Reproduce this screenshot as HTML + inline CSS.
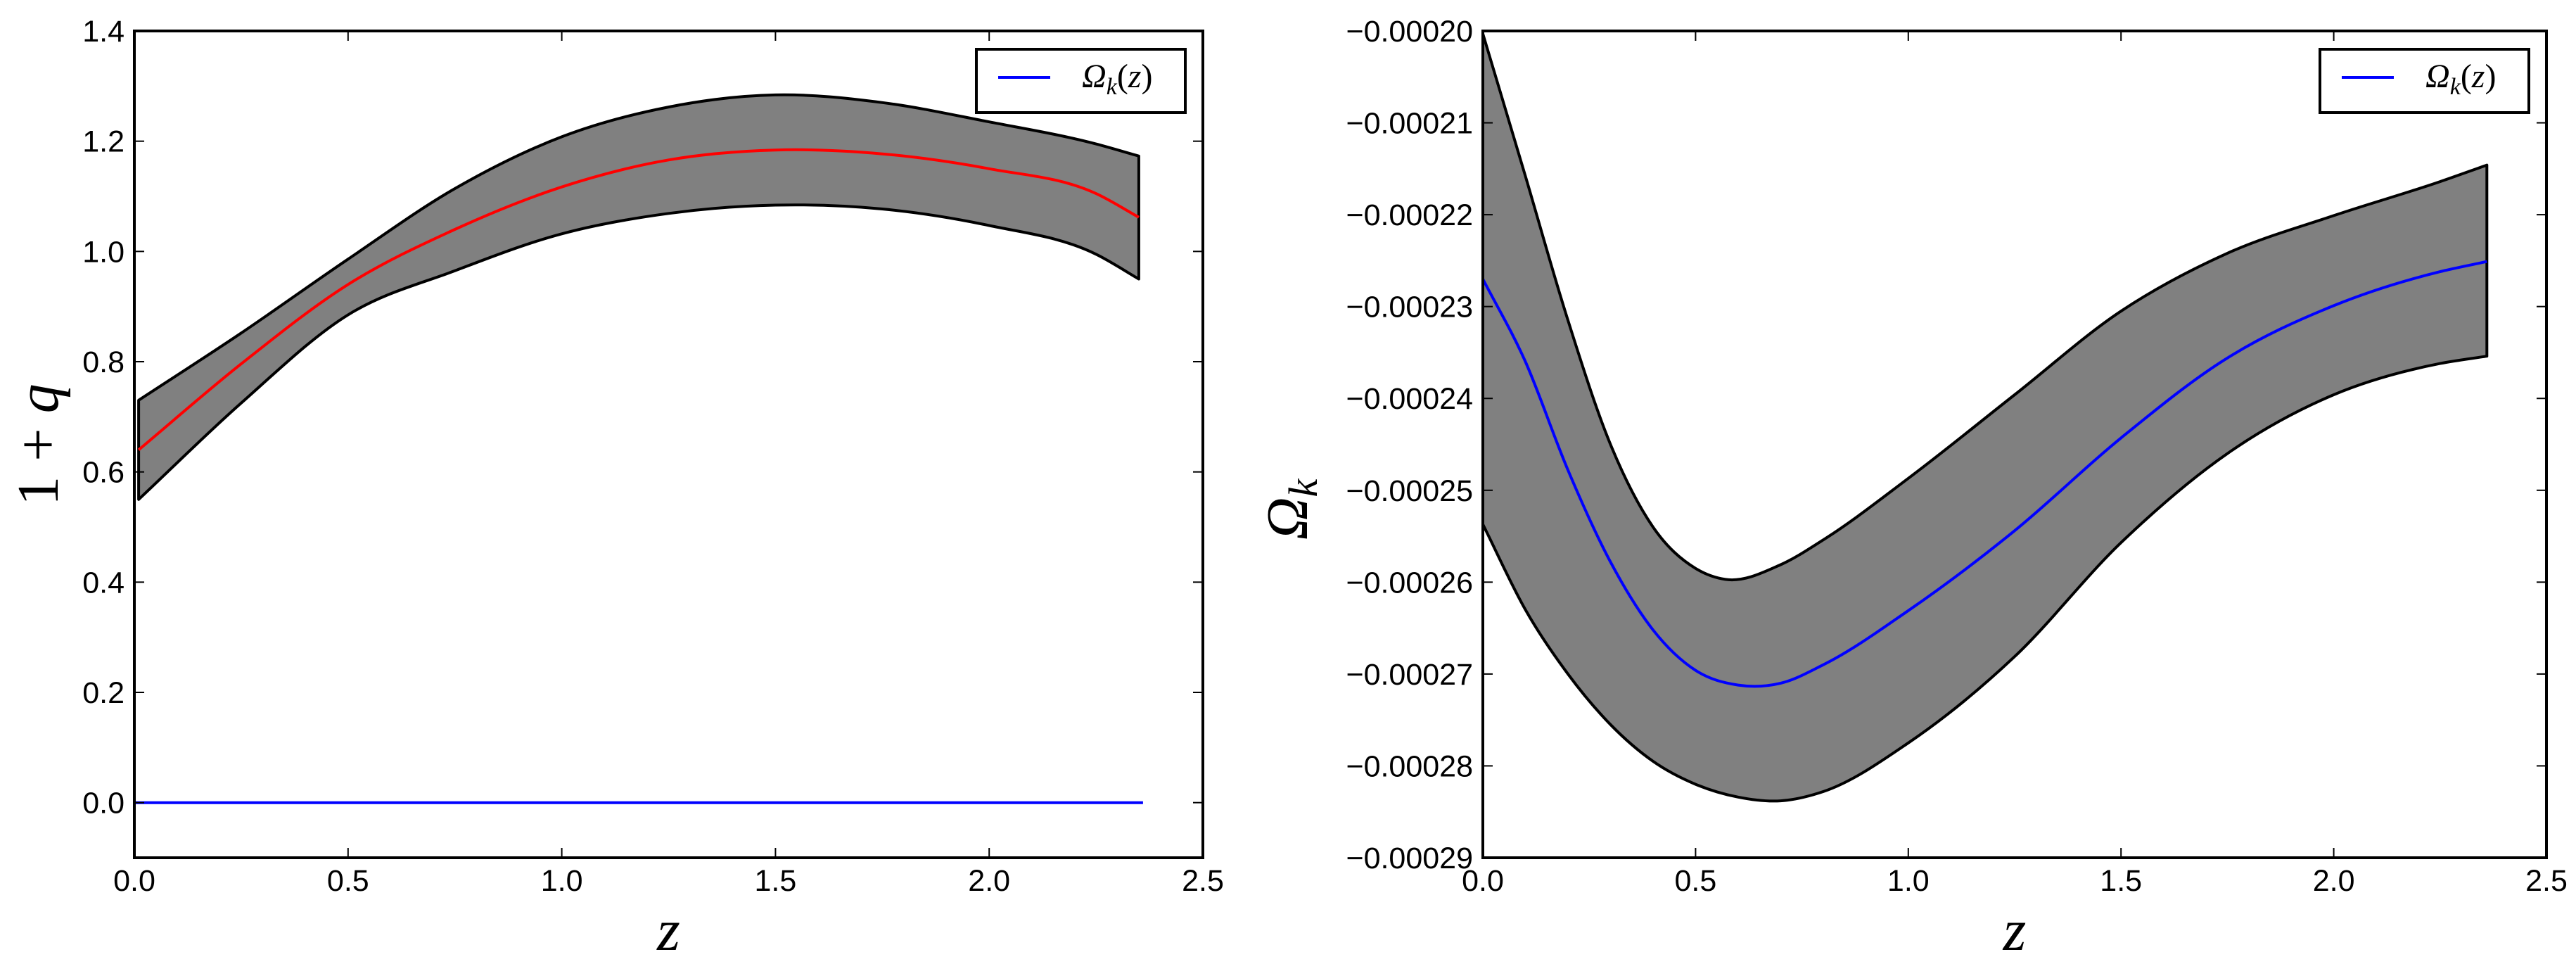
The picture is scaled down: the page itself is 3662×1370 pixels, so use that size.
<!DOCTYPE html>
<html><head><meta charset="utf-8">
<style>
html,body{margin:0;padding:0;background:#fff;}
svg{display:block;}
text{font-family:"Liberation Sans",sans-serif;}
.tick{font-size:43px;fill:#000;}
.math{font-family:"Liberation Serif","DejaVu Serif",serif;font-style:italic;}
</style></head>
<body>
<svg id="chart" width="3662" height="1370" viewBox="0 0 3662 1370" xmlns="http://www.w3.org/2000/svg"></svg>
<script>
// ---- Left panel data (1+q) ----
const qZ = [0.01,0.25,0.5,0.75,1.0,1.25,1.5,1.75,2.0,2.25,2.35];
const qMean = [0.64,0.796,0.94,1.04,1.117,1.166,1.184,1.177,1.15,1.105,1.062];
const qUpper = [0.73,0.852,0.986,1.114,1.208,1.262,1.284,1.270,1.235,1.195,1.173];
const qLower = [0.55,0.725,0.885,0.965,1.032,1.069,1.084,1.077,1.047,0.995,0.95];
const zeroZ = [0.0,2.36];
const zeroVal = [0,0];
const leftXTicks = [0,0.5,1.0,1.5,2.0,2.5];
const leftXTickLabels = ["0.0","0.5","1.0","1.5","2.0","2.5"];
const leftYTicks = [0,0.2,0.4,0.6,0.8,1.0,1.2,1.4];
const leftYTickLabels = ["0.0","0.2","0.4","0.6","0.8","1.0","1.2","1.4"];
// ---- Right panel data (Omega_k), units of 1e-5 ----
const okMeanZ = [0,0.1,0.2,0.3,0.4,0.5,0.6,0.7,0.8,1.0,1.25,1.5,1.75,2.0,2.25,2.36];
const okMean = [-22.70,-23.6,-24.78,-25.78,-26.52,-26.96,-27.12,-27.10,-26.9,-26.31,-25.44,-24.43,-23.56,-22.99,-22.62,-22.51];
const okUpperZ = [0,0.1,0.2,0.3,0.4,0.5,0.57,0.7,0.8,1.0,1.25,1.5,1.75,2.0,2.25,2.36];
const okUpper = [-20.03,-21.58,-23.15,-24.5,-25.4,-25.85,-25.97,-25.81,-25.54,-24.87,-23.96,-23.05,-22.42,-22.01,-21.64,-21.46];
const okLowerZ = [0,0.1,0.2,0.3,0.4,0.5,0.6,0.7,0.8,1.0,1.25,1.5,1.75,2.0,2.25,2.36];
const okLower = [-25.37,-26.3,-27.0,-27.55,-27.95,-28.2,-28.34,-28.38,-28.28,-27.75,-26.81,-25.57,-24.6,-23.96,-23.62,-23.54];
const rightXTicks = [0,0.5,1.0,1.5,2.0,2.5];
const rightXTickLabels = ["0.0","0.5","1.0","1.5","2.0","2.5"];
const rightYTicks = [-20,-21,-22,-23,-24,-25,-26,-27,-28,-29];
const rightYTickLabels = ["\u22120.00020","\u22120.00021","\u22120.00022","\u22120.00023","\u22120.00024","\u22120.00025","\u22120.00026","\u22120.00027","\u22120.00028","\u22120.00029"];

const NS = "http://www.w3.org/2000/svg";
const svg = document.getElementById('chart');
function mk(tag, attrs, parent){
  const e = document.createElementNS(NS, tag);
  for (const k in attrs) e.setAttribute(k, attrs[k]);
  (parent||svg).appendChild(e);
  return e;
}
function scale(d0,d1,r0,r1){ return v => r0 + (v-d0)/(d1-d0)*(r1-r0); }
function pts(xs, ys, sx, sy){ return xs.map((x,i)=>[sx(x), sy(ys[i])]); }
function tangents(p){
  const n=p.length, m=[];
  for(let i=0;i<n;i++){
    if(i===0) m.push((p[1][1]-p[0][1])/(p[1][0]-p[0][0]));
    else if(i===n-1) m.push((p[n-1][1]-p[n-2][1])/(p[n-1][0]-p[n-2][0]));
    else {
      const d0=(p[i][1]-p[i-1][1])/(p[i][0]-p[i-1][0]);
      const d1=(p[i+1][1]-p[i][1])/(p[i+1][0]-p[i][0]);
      const h0=p[i][0]-p[i-1][0], h1=p[i+1][0]-p[i][0];
      m.push((d0*h1+d1*h0)/(h0+h1));
    }
  }
  return m;
}
function curve(p, moveFirst){
  const n=p.length, m=tangents(p);
  let d = (moveFirst ? "M" : "L") + p[0][0].toFixed(1) + "," + p[0][1].toFixed(1);
  for(let i=0;i<n-1;i++){
    const h=(p[i+1][0]-p[i][0])/3;
    d += "C"+(p[i][0]+h).toFixed(1)+","+(p[i][1]+m[i]*h).toFixed(1)+" "+(p[i+1][0]-h).toFixed(1)+","+(p[i+1][1]-m[i+1]*h).toFixed(1)+" "+p[i+1][0].toFixed(1)+","+p[i+1][1].toFixed(1);
  }
  return d;
}
function curveRev(p){
  const n=p.length, m=tangents(p);
  let d = "L"+p[n-1][0].toFixed(1)+","+p[n-1][1].toFixed(1);
  for(let i=n-1;i>0;i--){
    const h=(p[i][0]-p[i-1][0])/3;
    d += "C"+(p[i][0]-h).toFixed(1)+","+(p[i][1]-m[i]*h).toFixed(1)+" "+(p[i-1][0]+h).toFixed(1)+","+(p[i-1][1]+m[i-1]*h).toFixed(1)+" "+p[i-1][0].toFixed(1)+","+p[i-1][1].toFixed(1);
  }
  return d;
}

function panel(o){
  const g = mk('g', {});
  
  
  const sx = scale(o.xd[0], o.xd[1], o.L, o.R);
  const sy = scale(o.yd[0], o.yd[1], o.B, o.T);
  const up = pts(o.upZ, o.up, sx, sy);
  const lo = pts(o.loZ, o.lo, sx, sy);
  const band = mk('path', {d: curve(up,true) + curveRev(lo) + "Z", fill:"#808080", stroke:"#000", "stroke-width":4, "stroke-linejoin":"round"}, g);
  
  
  o.lines.forEach(l=>{
    const pe = mk('path', {d: curve(pts(l.z, l.v, sx, sy),true), fill:"none", stroke:l.color, "stroke-width":4}, g);
    
    
  });
  const fr = mk('rect', {x:o.L, y:o.T, width:o.R-o.L, height:o.B-o.T, fill:"none", stroke:"#000", "stroke-width":4}, g);
  
  
  o.xt.forEach((t,i)=>{
    const x = sx(t);
    mk('line',{x1:x,y1:o.B,x2:x,y2:o.B-14,stroke:"#000","stroke-width":2},g);
    mk('line',{x1:x,y1:o.T,x2:x,y2:o.T+14,stroke:"#000","stroke-width":2},g);
    const tx = mk('text',{x:x,y:o.B+47,"text-anchor":"middle",class:"tick"},g);
    tx.textContent = o.xtl[i];
    
    
  });
  o.yt.forEach((t,i)=>{
    const y = sy(t);
    mk('line',{x1:o.L,y1:y,x2:o.L+14,y2:y,stroke:"#000","stroke-width":2},g);
    mk('line',{x1:o.R,y1:y,x2:o.R-14,y2:y,stroke:"#000","stroke-width":2},g);
    const tx = mk('text',{x:o.L-14,y:y+15,"text-anchor":"end",class:"tick"},g);
    tx.textContent = o.ytl[i];
    
    
  });
  const lg = mk('g',{},g);
  
  
  mk('rect',{x:o.lgX,y:70,width:297,height:90,fill:"#fff",stroke:"#000","stroke-width":4},lg);
  mk('line',{x1:o.lgX+31,y1:110,x2:o.lgX+105,y2:110,stroke:"#0000ff","stroke-width":4},lg);
  const lt = mk('text',{x:o.lgX+150,y:124,class:"math","font-size":"48"},lg);
  lt.innerHTML = 'Ω<tspan font-size="34" dy="10">k</tspan><tspan dy="-10" font-style="normal">(</tspan>z<tspan font-style="normal">)</tspan>';
  
  
  const xl = mk('text',{x:(o.L+o.R)/2,y:1350,"text-anchor":"middle",class:"math","font-size":"84"},g);
  xl.textContent = 'z';
  
  
  return g;
}

panel({name:'left-panel', L:191, R:1710, T:44, B:1219, xd:[0,2.5], yd:[-0.1,1.4],
  upZ:qZ, up:qUpper, loZ:qZ, lo:qLower,
  lines:[{z:qZ,v:qMean,color:"#ff0000",name:'mean-1-plus-q'},{z:zeroZ,v:zeroVal,color:"#0000ff",name:'omega-k-line'}],
  xt:leftXTicks, xtl:leftXTickLabels, yt:leftYTicks, ytl:leftYTickLabels, lgX:1388});

panel({name:'right-panel', L:2108, R:3620, T:44, B:1219, xd:[0,2.5], yd:[-29,-20],
  upZ:okUpperZ, up:okUpper, loZ:okLowerZ, lo:okLower,
  lines:[{z:okMeanZ,v:okMean,color:"#0000ff",name:'omega-k-mean'}],
  xt:rightXTicks, xtl:rightXTickLabels, yt:rightYTicks, ytl:rightYTickLabels, lgX:3298});

const yl1 = mk('text',{x:0,y:0,transform:"translate(82,632) rotate(-90)","text-anchor":"middle",class:"math","font-size":"84"});
yl1.innerHTML = '<tspan font-style="normal">1 + </tspan>q';


const yl2 = mk('text',{x:0,y:0,transform:"translate(1858,724) rotate(-90)","text-anchor":"middle",class:"math","font-size":"84"});
yl2.innerHTML = 'Ω<tspan font-size="58" dy="14">k</tspan>';


</script>
</body></html>
